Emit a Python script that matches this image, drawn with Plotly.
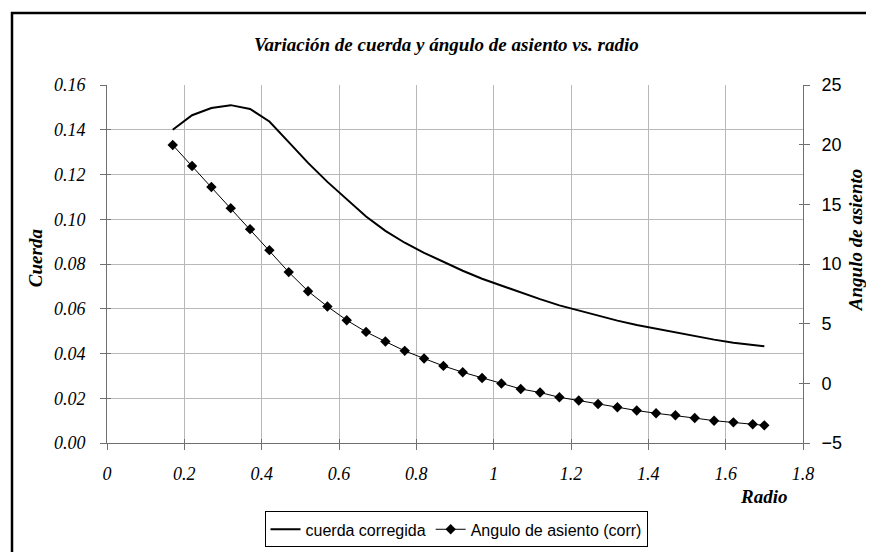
import plotly.graph_objects as go

# ---- data ----
radio = [0.17, 0.22, 0.27, 0.32, 0.37, 0.42, 0.47, 0.52, 0.57, 0.62, 0.67, 0.72,
         0.77, 0.82, 0.87, 0.92, 0.97, 1.02, 1.07, 1.12, 1.17, 1.22, 1.27, 1.32,
         1.37, 1.42, 1.47, 1.52, 1.57, 1.62, 1.67, 1.70]
cuerda_corregida = [0.1400, 0.1465, 0.1497, 0.1510, 0.1493, 0.1437, 0.1345, 0.1252,
                    0.1167, 0.1088, 0.1012, 0.0948, 0.0895, 0.0850, 0.0810, 0.0770,
                    0.0734, 0.0703, 0.0674, 0.0643, 0.0615, 0.0592, 0.0568, 0.0547,
                    0.0527, 0.0510, 0.0493, 0.0477, 0.0462, 0.0448, 0.0440, 0.0432]
angulo_asiento = [19.97, 18.21, 16.45, 14.68, 12.92, 11.16, 9.32, 7.72, 6.44, 5.29,
                  4.31, 3.50, 2.72, 2.08, 1.46, 0.93, 0.45, -0.02, -0.47, -0.77,
                  -1.17, -1.44, -1.73, -2.01, -2.28, -2.51, -2.68, -2.91, -3.13,
                  -3.27, -3.43, -3.52]
x_ticks = [0, 0.2, 0.4, 0.6, 0.8, 1, 1.2, 1.4, 1.6, 1.8]
y_ticks = [0.00, 0.02, 0.04, 0.06, 0.08, 0.10, 0.12, 0.14, 0.16]
y2_ticks = [-5, 0, 5, 10, 15, 20, 25]

SERIF = "Liberation Serif"
SANS = "Liberation Sans"

OFF = 8  # default page body margin
W, H = 874, 552
# plot area in page pixels: x 107..803, y 85..442.7
L = 107 - OFF
T = 85 - OFF
R = W - (803 - OFF)
B = H - (442.7 - OFF)
pw, ph = W - L - R, H - T - B


def px(x):  # page x -> paper
    return (x - OFF - L) / pw


def py(y):  # page y -> paper
    return (H - B - (y - OFF)) / ph


AX = "#707070"
GRID = "#b8b8b8"

fig = go.Figure()
fig.add_trace(go.Scatter(
    x=radio, y=cuerda_corregida, name="cuerda corregida", mode="lines",
    line=dict(color="black", width=2), xaxis="x", yaxis="y"))
fig.add_trace(go.Scatter(
    x=radio, y=angulo_asiento, name="Angulo de asiento (corr)", mode="lines+markers",
    line=dict(color="black", width=1),
    marker=dict(symbol="diamond", size=8, color="black"), xaxis="x", yaxis="y2"))
# empty helper traces so the inner half of the crossing tick marks is drawn
fig.add_trace(go.Scatter(x=[None], y=[None], xaxis="x2", yaxis="y3",
                         showlegend=False, hoverinfo="skip"))
fig.add_trace(go.Scatter(x=[None], y=[None], xaxis="x2", yaxis="y4",
                         showlegend=False, hoverinfo="skip"))

tick_serif = dict(family=SERIF, size=18, color="black", style="italic")
title_font = dict(family=SERIF, size=19, color="black", style="italic", weight="bold")

inner = dict(ticks="inside", ticklen=4, tickcolor=AX, showticklabels=False,
             showgrid=False, zeroline=False, showline=False)

fig.update_layout(
    width=W, height=H,
    margin=dict(l=L, r=R, t=T, b=B),
    paper_bgcolor="white", plot_bgcolor="white",
    showlegend=True,
    legend=dict(orientation="h", x=px(456), y=py(529), xanchor="center", yanchor="middle",
                bordercolor="black", borderwidth=1,
                font=dict(family=SANS, size=16, color="black"),
                itemwidth=30, tracegroupgap=0),
    xaxis=dict(range=[0, 1.8], tickvals=x_ticks, ticktext=[str(v) for v in x_ticks],
               showgrid=True, gridcolor=GRID, gridwidth=1,
               showline=True, linecolor=AX, linewidth=1,
               ticks="outside", ticklen=6, tickcolor=AX, ticklabelstandoff=8,
               tickfont=tick_serif, zeroline=False),
    xaxis2=dict(range=[0, 1.8], tickvals=x_ticks, overlaying="x", side="bottom", **inner),
    yaxis=dict(range=[0, 0.16], tickvals=y_ticks, ticktext=["%.2f" % v for v in y_ticks],
               showgrid=True, gridcolor=GRID, gridwidth=1,
               showline=True, linecolor=AX, linewidth=1,
               ticks="outside", ticklen=6, tickcolor=AX, ticklabelstandoff=11,
               tickfont=tick_serif, zeroline=False),
    yaxis2=dict(range=[-5, 25], tickvals=y2_ticks, overlaying="y", side="right",
                showgrid=False, showline=True, linecolor=AX, linewidth=1,
                ticks="outside", ticklen=6, tickcolor=AX, ticklabelstandoff=8,
                tickfont=dict(family=SANS, size=18, color="black"),
                zeroline=False),
    yaxis3=dict(range=[0, 0.16], tickvals=y_ticks, overlaying="y", side="left", **inner),
    yaxis4=dict(range=[-5, 25], tickvals=y2_ticks, overlaying="y", side="right", **inner),
    shapes=[
        dict(type="line", xref="paper", yref="paper", x0=px(12), x1=px(12),
             y0=py(12), y1=py(570), line=dict(color="black", width=2.5)),
        dict(type="line", xref="paper", yref="paper", x0=px(11), x1=px(890),
             y0=py(13), y1=py(13), line=dict(color="black", width=2.5)),
    ],
    annotations=[
        dict(text="Variación de cuerda y ángulo de asiento vs. radio", xref="paper",
             yref="paper", x=px(446), y=py(45), showarrow=False,
             xanchor="center", yanchor="middle", font=title_font),
        dict(text="Cuerda", xref="paper", yref="paper", x=px(35), y=py(258),
             showarrow=False, textangle=-90, xanchor="center", yanchor="middle",
             font=title_font),
        dict(text="Angulo de asiento", xref="paper", yref="paper", x=px(855), y=py(240),
             showarrow=False, textangle=-90, xanchor="center", yanchor="middle",
             font=title_font),
        dict(text="Radio", xref="paper", yref="paper", x=px(789), y=py(496),
             showarrow=False, xanchor="right", yanchor="middle", font=title_font),
    ],
)

fig.write_html("out.html")
